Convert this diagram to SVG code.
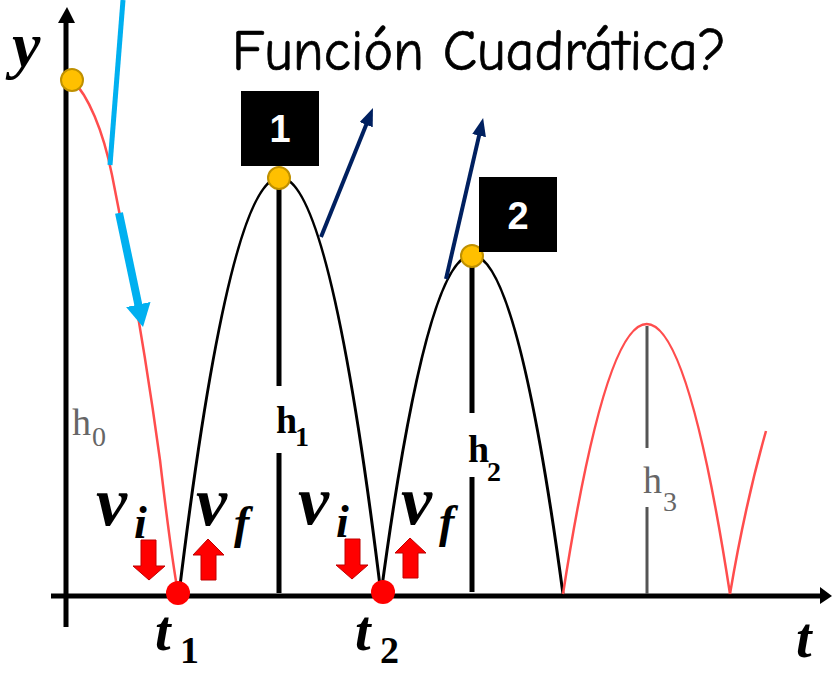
<svg xmlns="http://www.w3.org/2000/svg" width="832" height="673" viewBox="0 0 832 673">
<style>
.axis{stroke:#000;stroke-width:5;fill:none}
.bk{stroke:#000;stroke-width:3;fill:none;stroke-linejoin:round}
.rd{stroke:#FF4D4D;stroke-width:2.5;fill:none;stroke-linejoin:round}
.vl{stroke:#000;stroke-width:5}
.vg{stroke:#555;stroke-width:3}
.peak{fill:#FFC000;stroke:#BF9000;stroke-width:2}
.hit{fill:#FF0000}
.blk{fill:#FF0000;stroke:#C00000;stroke-width:1}
.math{font-family:"Liberation Serif","DejaVu Serif",serif;font-weight:bold;font-style:italic;fill:#000}
.sub{font-family:"Liberation Serif","DejaVu Serif",serif;font-weight:bold;fill:#000}
.hl{font-family:"Liberation Serif","DejaVu Serif",serif;fill:#666}
.hb{font-family:"Liberation Serif","DejaVu Serif",serif;fill:#000;font-weight:bold}
.num{font-family:"Liberation Sans","DejaVu Sans",sans-serif;font-weight:bold;fill:#fff;font-size:38px;text-anchor:middle}
</style>
<defs>
<marker id="navyHead" markerUnits="userSpaceOnUse" markerWidth="18" markerHeight="14" refX="1" refY="7" orient="auto">
<path d="M0,0 L18,7 L0,14 z" fill="#002060"/>
</marker>
<marker id="blueHead" markerUnits="userSpaceOnUse" markerWidth="23" markerHeight="25" refX="1" refY="12.5" orient="auto">
<path d="M0,0 L23,12.5 L0,25 z" fill="#00B0F0"/>
</marker>
</defs>

<g id="axes">
<line class="axis" x1="66" y1="627" x2="66" y2="20"/>
<polygon points="58,23 67,7 75,23" fill="#000"/>
<line class="axis" x1="51" y1="596" x2="822" y2="596"/>
<polygon points="820,587 832,596 820,604" fill="#000"/>
<text class="math" x="12" y="66" font-size="64">y</text>
<text class="math" x="796" y="657" font-size="56">t</text>
</g>

<text id="title" x="232" y="70" font-family="'Comic Sans MS','Comic Neue','DejaVu Sans',sans-serif" font-size="58" textLength="494" lengthAdjust="spacingAndGlyphs" fill="#000" stroke="#000" stroke-width="0.7">Función Cuadrática?</text>

<g id="curves">
<path id="curve-h0" class="rd" d="M72,80 C88,95 103,130 112,175 C125,240 145,350 160,460 C167,520 173,565 178,593"/>
<path id="curve-h1" class="bk" d="M179,594 Q280,-239 381,594"/>
<path id="curve-h2" class="bk" d="M381,594 Q472,-84 563,594"/>
<path id="curve-h3" class="rd" d="M563,594 Q647,54 730,594"/>
<path id="curve-next" class="rd" d="M730,594 Q745,505 766,431"/>
</g>

<g id="heights">
<line class="vl" x1="279" y1="185" x2="279" y2="386"/>
<line class="vl" x1="279" y1="453" x2="279" y2="593"/>
<line class="vl" x1="472" y1="262" x2="472" y2="413"/>
<line class="vl" x1="472" y1="477" x2="472" y2="592"/>
<line class="vg" x1="647" y1="326" x2="647" y2="448"/>
<line class="vg" x1="647" y1="507" x2="647" y2="594"/>
<text class="hl" x="72" y="435" font-size="38">h</text><text class="hl" x="92" y="446" font-size="28">0</text>
<text class="hb" x="276" y="433" font-size="38">h</text><text class="hb" x="295" y="446" font-size="28">1</text>
<text class="hb" x="468" y="462" font-size="38">h</text><text class="hb" x="487" y="481" font-size="28">2</text>
<text class="hl" x="643" y="493" font-size="38">h</text><text class="hl" x="663" y="511" font-size="28">3</text>
</g>

<g id="connectors">
<line x1="123" y1="0" x2="110" y2="165" stroke="#00B0F0" stroke-width="5"/>
<line x1="119" y1="213" x2="138.5" y2="305.5" stroke="#00B0F0" stroke-width="8" marker-end="url(#blueHead)"/>
<line x1="321" y1="237" x2="366.6" y2="123.8" stroke="#002060" stroke-width="4" marker-end="url(#navyHead)"/>
<line x1="446" y1="279" x2="479.3" y2="134.6" stroke="#002060" stroke-width="4" marker-end="url(#navyHead)"/>
</g>

<g id="node-start"><circle class="peak" cx="72" cy="80" r="11"/></g>
<g id="node-peak1"><circle class="peak" cx="279" cy="178" r="11"/></g>
<g id="node-peak2"><circle class="peak" cx="472" cy="256" r="11"/></g>
<g id="node-t1"><circle class="hit" cx="178" cy="593" r="12"/></g>
<g id="node-t2"><circle class="hit" cx="383" cy="592" r="12"/></g>

<g id="box1"><rect x="241" y="91" width="78" height="75" fill="#000"/><text class="num" x="280" y="142">1</text></g>
<g id="box2"><rect x="479" y="177" width="78" height="75" fill="#000"/><text class="num" x="518" y="229">2</text></g>

<g id="velocities">
<polygon class="blk" points="141,540 156,540 156,566 165,566 149,580 133,566 141,566"/>
<polygon class="blk" points="208,539 224,555 216,555 216,580 201,580 201,555 193,555"/>
<polygon class="blk" points="345,539 360,539 360,565 368,565 352,579 336,565 345,565"/>
<polygon class="blk" points="410,538 426,553 418,553 418,578 403,578 403,553 395,553"/>
<text class="math" x="96" y="525" font-size="70">v</text><text class="math" x="134" y="538" font-size="46">i</text>
<text class="math" x="196" y="525" font-size="70">v</text><text class="math" x="234" y="538" font-size="46">f</text>
<text class="math" x="298" y="524" font-size="70">v</text><text class="math" x="336" y="537" font-size="46">i</text>
<text class="math" x="401" y="524" font-size="70">v</text><text class="math" x="439" y="537" font-size="46">f</text>
</g>

<g id="time-labels">
<text class="math" x="155" y="650" font-size="56">t</text><text class="sub" x="180" y="663" font-size="38">1</text>
<text class="math" x="355" y="650" font-size="56">t</text><text class="sub" x="380" y="663" font-size="38">2</text>
</g>
</svg>
